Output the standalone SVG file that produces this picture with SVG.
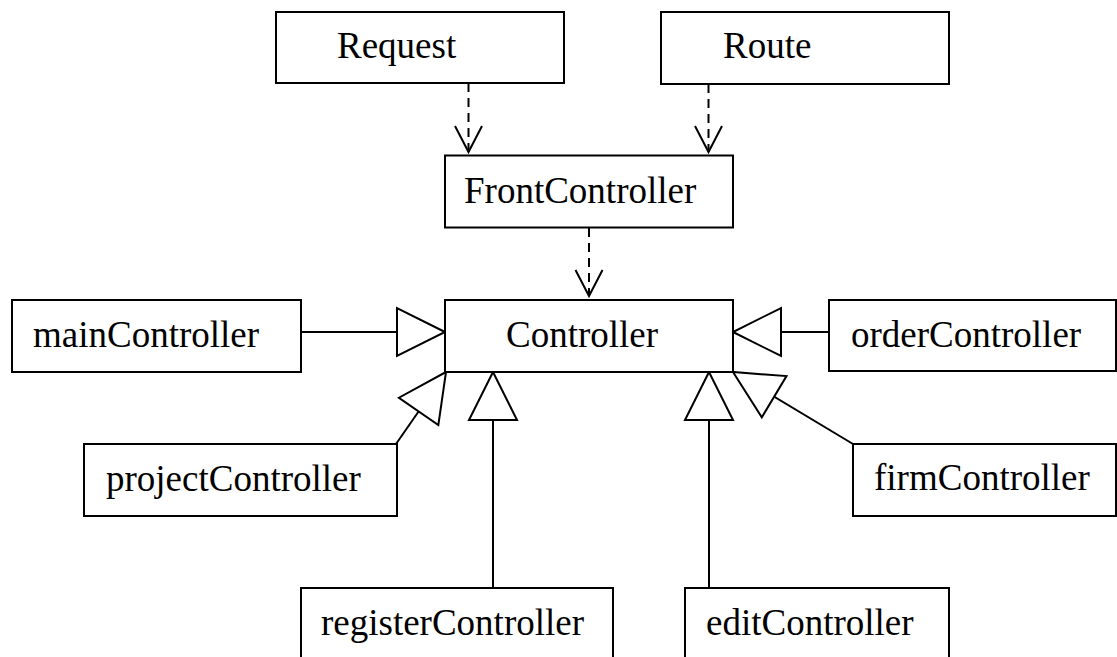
<svg xmlns="http://www.w3.org/2000/svg" width="1117" height="657" viewBox="0 0 1117 657">
<style>
.box{fill:#fff;stroke:#000;stroke-width:2}
.lbl{font-family:"Liberation Serif","Times New Roman",serif;font-size:37px;fill:#000}
.dep{stroke:#000;stroke-width:2;fill:none;stroke-dasharray:9 6}
.gen{stroke:#000;stroke-width:2;fill:none}
</style>
<defs>
<marker id="open" markerUnits="userSpaceOnUse" viewBox="-30 -16 32 32" markerWidth="32" markerHeight="32" refX="0" refY="0" orient="auto" overflow="visible">
<path d="M-26,-13.5 L0,0 L-26,13.5" fill="none" stroke="#000" stroke-width="2" stroke-dasharray="none"/>
</marker>
<marker id="tri" markerUnits="userSpaceOnUse" viewBox="-50 -26 52 52" markerWidth="52" markerHeight="52" refX="0" refY="0" orient="auto" overflow="visible">
<path d="M0,0 L-48,-24 L-48,24 Z" fill="#fff" stroke="#000" stroke-width="2" stroke-linejoin="miter"/>
</marker>
</defs>
<g id="connectors">
<line class="dep" x1="468.5" y1="83" x2="468.5" y2="152" marker-end="url(#open)"/>
<line class="dep" x1="708.5" y1="84" x2="708.5" y2="152" marker-end="url(#open)"/>
<line class="dep" x1="589" y1="228" x2="589" y2="296" marker-end="url(#open)"/>
<line class="gen" x1="301" y1="332" x2="445" y2="332" marker-end="url(#tri)"/>
<line class="gen" x1="829" y1="332" x2="733" y2="332" marker-end="url(#tri)"/>
<line class="gen" x1="396" y1="444" x2="446" y2="372" marker-end="url(#tri)"/>
<line class="gen" x1="493" y1="588" x2="493" y2="372" marker-end="url(#tri)"/>
<line class="gen" x1="709" y1="588" x2="709" y2="372" marker-end="url(#tri)"/>
<line class="gen" x1="853" y1="444" x2="733" y2="372" marker-end="url(#tri)"/>
</g>
<g id="Request"><rect class="box" x="276" y="12" width="288" height="71"/><text class="lbl" x="337" y="58">Request</text></g>
<g id="Route"><rect class="box" x="661" y="12" width="288" height="72"/><text class="lbl" x="723" y="58">Route</text></g>
<g id="FrontController"><rect class="box" x="445" y="155.5" width="288" height="72"/><text class="lbl" x="464" y="203">FrontController</text></g>
<g id="Controller"><rect class="box" x="445" y="300" width="288" height="72"/><text class="lbl" x="506" y="347">Controller</text></g>
<g id="mainController"><rect class="box" x="12" y="300" width="289" height="72"/><text class="lbl" x="33" y="347">mainController</text></g>
<g id="orderController"><rect class="box" x="829" y="300" width="287" height="71"/><text class="lbl" x="851" y="347">orderController</text></g>
<g id="projectController"><rect class="box" x="84" y="444" width="313" height="72"/><text class="lbl" x="106" y="491">projectController</text></g>
<g id="firmController"><rect class="box" x="853" y="444" width="263" height="72"/><text class="lbl" x="874" y="490">firmController</text></g>
<g id="registerController"><rect class="box" x="301" y="588" width="312" height="80"/><text class="lbl" x="321" y="635">registerController</text></g>
<g id="editController"><rect class="box" x="685" y="588" width="264" height="80"/><text class="lbl" x="706" y="635">editController</text></g>
</svg>
